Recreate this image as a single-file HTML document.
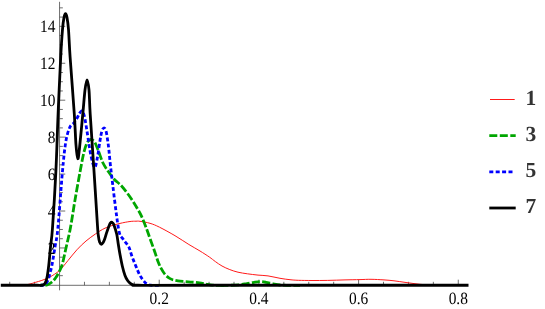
<!DOCTYPE html>
<html><head><meta charset="utf-8"><title>plot</title>
<style>html,body{margin:0;padding:0;background:#fff;}body{width:545px;height:309px;overflow:hidden;font-family:"Liberation Serif",serif;}svg{display:block;will-change:transform;}text{text-rendering:geometricPrecision;}</style>
</head><body>
<svg width="545" height="309" viewBox="0 0 545 309">
<rect width="100%" height="100%" fill="#fff"/>
<g stroke="#4a4a4a" stroke-width="0.8" fill="none">
<line x1="1" y1="285.30" x2="468" y2="285.30"/>
<line x1="59.55" y1="1.8" x2="59.55" y2="290.3"/>
<line x1="59.55" y1="275.66" x2="62.85" y2="275.66"/>
<line x1="59.55" y1="266.43" x2="62.85" y2="266.43"/>
<line x1="59.55" y1="257.19" x2="62.85" y2="257.19"/>
<line x1="59.55" y1="247.96" x2="65.25" y2="247.96"/>
<line x1="59.55" y1="238.72" x2="62.85" y2="238.72"/>
<line x1="59.55" y1="229.49" x2="62.85" y2="229.49"/>
<line x1="59.55" y1="220.25" x2="62.85" y2="220.25"/>
<line x1="59.55" y1="211.02" x2="65.25" y2="211.02"/>
<line x1="59.55" y1="201.78" x2="62.85" y2="201.78"/>
<line x1="59.55" y1="192.55" x2="62.85" y2="192.55"/>
<line x1="59.55" y1="183.31" x2="62.85" y2="183.31"/>
<line x1="59.55" y1="174.08" x2="65.25" y2="174.08"/>
<line x1="59.55" y1="164.84" x2="62.85" y2="164.84"/>
<line x1="59.55" y1="155.61" x2="62.85" y2="155.61"/>
<line x1="59.55" y1="146.38" x2="62.85" y2="146.38"/>
<line x1="59.55" y1="137.14" x2="65.25" y2="137.14"/>
<line x1="59.55" y1="127.90" x2="62.85" y2="127.90"/>
<line x1="59.55" y1="118.67" x2="62.85" y2="118.67"/>
<line x1="59.55" y1="109.44" x2="62.85" y2="109.44"/>
<line x1="59.55" y1="100.20" x2="65.25" y2="100.20"/>
<line x1="59.55" y1="90.96" x2="62.85" y2="90.96"/>
<line x1="59.55" y1="81.73" x2="62.85" y2="81.73"/>
<line x1="59.55" y1="72.50" x2="62.85" y2="72.50"/>
<line x1="59.55" y1="63.26" x2="65.25" y2="63.26"/>
<line x1="59.55" y1="54.02" x2="62.85" y2="54.02"/>
<line x1="59.55" y1="44.79" x2="62.85" y2="44.79"/>
<line x1="59.55" y1="35.56" x2="62.85" y2="35.56"/>
<line x1="59.55" y1="26.32" x2="65.25" y2="26.32"/>
<line x1="59.55" y1="17.08" x2="62.85" y2="17.08"/>
<line x1="59.55" y1="7.85" x2="62.85" y2="7.85"/>
<line x1="9.71" y1="285.30" x2="9.71" y2="281.80"/>
<line x1="34.63" y1="285.30" x2="34.63" y2="281.80"/>
<line x1="84.47" y1="285.30" x2="84.47" y2="281.80"/>
<line x1="109.39" y1="285.30" x2="109.39" y2="281.80"/>
<line x1="134.31" y1="285.30" x2="134.31" y2="281.80"/>
<line x1="159.23" y1="285.30" x2="159.23" y2="279.70"/>
<line x1="184.15" y1="285.30" x2="184.15" y2="281.80"/>
<line x1="209.07" y1="285.30" x2="209.07" y2="281.80"/>
<line x1="233.99" y1="285.30" x2="233.99" y2="281.80"/>
<line x1="258.91" y1="285.30" x2="258.91" y2="279.70"/>
<line x1="283.83" y1="285.30" x2="283.83" y2="281.80"/>
<line x1="308.75" y1="285.30" x2="308.75" y2="281.80"/>
<line x1="333.67" y1="285.30" x2="333.67" y2="281.80"/>
<line x1="358.59" y1="285.30" x2="358.59" y2="279.70"/>
<line x1="383.51" y1="285.30" x2="383.51" y2="281.80"/>
<line x1="408.43" y1="285.30" x2="408.43" y2="281.80"/>
<line x1="433.35" y1="285.30" x2="433.35" y2="281.80"/>
<line x1="458.27" y1="285.30" x2="458.27" y2="279.70"/>
</g>
<defs><clipPath id="cg"><rect x="40" y="0" width="250" height="309"/></clipPath><clipPath id="cb"><rect x="40" y="0" width="120" height="309"/></clipPath></defs>
<path d="M1.00,285.20 C3.33,285.20 11.17,285.23 15.00,285.20 C18.83,285.17 21.50,285.20 24.00,285.00 C26.50,284.80 28.33,284.37 30.00,284.00 C31.67,283.63 32.83,283.15 34.00,282.80 C35.17,282.45 36.00,282.20 37.00,281.90 C38.00,281.60 38.83,281.38 40.00,281.00 C41.17,280.62 42.33,280.27 44.00,279.60 C45.67,278.93 47.42,278.52 50.00,277.00 C52.58,275.48 56.50,273.25 59.50,270.50 C62.50,267.75 65.10,263.95 68.00,260.50 C70.90,257.05 73.90,253.05 76.90,249.80 C79.90,246.55 82.92,243.63 86.00,241.00 C89.08,238.37 92.62,235.95 95.40,234.00 C98.18,232.05 100.27,230.60 102.70,229.30 C105.13,228.00 107.12,227.18 110.00,226.20 C112.88,225.22 116.67,224.18 120.00,223.40 C123.33,222.62 127.33,221.87 130.00,221.50 C132.67,221.13 134.33,221.23 136.00,221.20 C137.67,221.17 137.67,220.95 140.00,221.30 C142.33,221.65 146.75,222.32 150.00,223.30 C153.25,224.28 155.33,225.13 159.50,227.20 C163.67,229.27 170.10,232.82 175.00,235.70 C179.90,238.58 184.73,241.95 188.90,244.50 C193.07,247.05 196.60,248.92 200.00,251.00 C203.40,253.08 206.73,255.23 209.30,257.00 C211.87,258.77 213.28,260.10 215.40,261.60 C217.52,263.10 219.60,264.67 222.00,266.00 C224.40,267.33 227.13,268.57 229.80,269.60 C232.47,270.63 235.07,271.50 238.00,272.20 C240.93,272.90 244.07,273.32 247.40,273.80 C250.73,274.28 254.57,274.75 258.00,275.10 C261.43,275.45 264.33,275.37 268.00,275.90 C271.67,276.43 276.33,277.67 280.00,278.30 C283.67,278.93 286.95,279.37 290.00,279.70 C293.05,280.03 294.63,280.17 298.30,280.30 C301.97,280.43 307.10,280.48 312.00,280.50 C316.90,280.52 322.20,280.50 327.70,280.40 C333.20,280.30 339.62,280.03 345.00,279.90 C350.38,279.77 355.67,279.70 360.00,279.60 C364.33,279.50 367.00,279.25 371.00,279.30 C375.00,279.35 380.17,279.65 384.00,279.90 C387.83,280.15 390.33,280.37 394.00,280.80 C397.67,281.23 401.67,281.92 406.00,282.50 C410.33,283.08 415.67,283.87 420.00,284.30 C424.33,284.73 427.83,284.93 432.00,285.10 C436.17,285.27 439.17,285.27 445.00,285.30 C450.83,285.33 463.33,285.30 467.00,285.30" fill="none" stroke="#ff1a1a" stroke-width="1"/>
<path d="M0.00,285.22 C5.00,285.22 22.67,285.22 30.00,285.22 C37.33,285.22 41.00,285.34 44.00,285.22 C47.00,285.10 46.67,285.04 48.00,284.50 C49.33,283.96 50.72,283.12 52.00,282.00 C53.28,280.88 54.53,279.47 55.70,277.80 C56.87,276.13 57.93,274.15 59.00,272.00 C60.07,269.85 60.93,268.90 62.10,264.90 C63.27,260.90 64.62,254.15 66.00,248.00 C67.38,241.85 68.90,236.00 70.40,228.00 C71.90,220.00 73.37,209.50 75.00,200.00 C76.63,190.50 78.70,179.00 80.20,171.00 C81.70,163.00 82.78,156.83 84.00,152.00 C85.22,147.17 86.33,144.08 87.50,142.00 C88.67,139.92 89.78,139.45 91.00,139.50 C92.22,139.55 93.50,140.22 94.80,142.30 C96.10,144.38 97.43,148.55 98.80,152.00 C100.17,155.45 101.42,159.75 103.00,163.00 C104.58,166.25 106.48,168.83 108.30,171.50 C110.12,174.17 111.88,176.78 113.90,179.00 C115.92,181.22 118.25,182.55 120.40,184.80 C122.55,187.05 124.75,189.82 126.80,192.50 C128.85,195.18 130.87,198.10 132.70,200.90 C134.53,203.70 136.32,206.72 137.80,209.30 C139.28,211.88 140.20,213.32 141.60,216.40 C143.00,219.48 144.67,223.75 146.20,227.80 C147.73,231.85 149.33,236.58 150.80,240.70 C152.27,244.82 153.80,249.03 155.00,252.50 C156.20,255.97 157.00,258.88 158.00,261.50 C159.00,264.12 159.88,266.12 161.00,268.20 C162.12,270.28 163.45,272.42 164.70,274.00 C165.95,275.58 167.27,276.78 168.50,277.70 C169.73,278.62 170.52,278.98 172.10,279.50 C173.68,280.02 175.90,280.47 178.00,280.80 C180.10,281.13 182.37,281.28 184.70,281.50 C187.03,281.72 189.53,281.87 192.00,282.10 C194.47,282.33 197.17,282.57 199.50,282.90 C201.83,283.23 203.92,283.73 206.00,284.10 C208.08,284.47 210.00,284.90 212.00,285.10 C214.00,285.30 215.67,285.27 218.00,285.30 C220.33,285.33 224.67,285.30 226.00,285.30" fill="none" stroke="#00a600" stroke-width="2.8" stroke-dasharray="7.9 2.3" stroke-dashoffset="5.85" clip-path="url(#cg)"/>
<path id="g2" d="M218.00,285.30 C219.00,285.30 222.00,285.30 224.00,285.30 C226.00,285.30 227.50,285.37 230.00,285.30 C232.50,285.23 236.17,285.18 239.00,284.90 C241.83,284.62 244.50,284.03 247.00,283.60 C249.50,283.17 251.83,282.63 254.00,282.30 C256.17,281.97 258.00,281.60 260.00,281.60 C262.00,281.60 263.83,281.93 266.00,282.30 C268.17,282.67 270.67,283.35 273.00,283.80 C275.33,284.25 277.50,284.75 280.00,285.00 C282.50,285.25 284.67,285.25 288.00,285.30 C291.33,285.35 298.00,285.30 300.00,285.30" fill="none" stroke="#00a600" stroke-width="2.8" stroke-dasharray="8.1 2.4" stroke-dashoffset="8"/>
<path d="M0.00,285.22 C5.00,285.22 23.00,285.22 30.00,285.22 C37.00,285.22 39.42,285.42 42.00,285.22 C44.58,285.02 44.50,284.87 45.50,284.00 C46.50,283.13 47.25,281.83 48.00,280.00 C48.75,278.17 49.33,275.52 50.00,273.00 C50.67,270.48 51.17,269.23 52.00,264.90 C52.83,260.57 54.02,253.15 55.00,247.00 C55.98,240.85 56.65,240.67 57.90,228.00 C59.15,215.33 61.18,185.38 62.50,171.00 C63.82,156.62 64.60,148.95 65.80,141.70 C67.00,134.45 68.42,130.57 69.70,127.50 C70.98,124.43 72.28,124.83 73.50,123.30 C74.72,121.77 76.00,119.95 77.00,118.30 C78.00,116.65 78.77,114.62 79.50,113.40 C80.23,112.18 80.82,111.18 81.40,111.00 C81.98,110.82 82.50,111.42 83.00,112.30 C83.50,113.18 83.97,114.60 84.40,116.30 C84.83,118.00 85.13,119.80 85.60,122.50 C86.07,125.20 86.33,127.08 87.20,132.50 C88.07,137.92 89.57,149.20 90.80,155.00 C92.03,160.80 93.48,166.97 94.60,167.30 C95.72,167.63 96.62,161.35 97.50,157.00 C98.38,152.65 99.18,145.45 99.90,141.20 C100.62,136.95 101.15,133.70 101.80,131.50 C102.45,129.30 103.12,128.17 103.80,128.00 C104.48,127.83 105.27,128.50 105.90,130.50 C106.53,132.50 107.10,136.75 107.60,140.00 C108.10,143.25 108.30,144.67 108.90,150.00 C109.50,155.33 109.62,159.00 111.20,172.00 C112.78,185.00 116.43,216.83 118.40,228.00 C120.37,239.17 121.30,235.92 123.00,239.00 C124.70,242.08 127.17,243.78 128.60,246.50 C130.03,249.22 130.47,252.22 131.60,255.30 C132.73,258.38 134.10,261.83 135.40,265.00 C136.70,268.17 138.08,271.73 139.40,274.30 C140.72,276.87 142.07,278.80 143.30,280.40 C144.53,282.00 145.60,283.12 146.80,283.90 C148.00,284.68 149.13,284.87 150.50,285.10 C151.87,285.33 151.75,285.27 155.00,285.30 C158.25,285.33 167.50,285.30 170.00,285.30" fill="none" stroke="#0000ff" stroke-width="2.8" stroke-dasharray="3.9 2.38" stroke-dashoffset="3.78" clip-path="url(#cb)"/>
<path d="M0.80,285.27 C4.00,285.27 13.97,285.27 20.00,285.27 C26.03,285.27 33.50,285.27 37.00,285.27 C40.50,285.27 39.90,285.37 41.00,285.27 C42.10,285.17 42.87,285.14 43.60,284.70 C44.33,284.25 44.83,283.78 45.40,282.60 C45.97,281.42 46.43,280.55 47.00,277.60 C47.57,274.65 48.22,270.00 48.80,264.90 C49.38,259.80 49.88,253.15 50.50,247.00 C51.12,240.85 51.60,240.67 52.50,228.00 C53.40,215.33 54.97,190.00 55.90,171.00 C56.83,152.00 57.30,133.00 58.10,114.00 C58.90,95.00 59.97,71.08 60.70,57.00 C61.43,42.92 61.95,36.08 62.50,29.50 C63.05,22.92 63.50,20.13 64.00,17.50 C64.50,14.87 65.00,13.70 65.50,13.70 C66.00,13.70 66.50,14.87 67.00,17.50 C67.50,20.13 67.98,22.92 68.50,29.50 C69.02,36.08 69.13,42.92 70.10,57.00 C71.07,71.08 73.32,99.33 74.30,114.00 C75.28,128.67 75.42,137.55 76.00,145.00 C76.58,152.45 77.22,158.20 77.80,158.70 C78.38,159.20 78.67,155.45 79.50,148.00 C80.33,140.55 81.88,123.67 82.80,114.00 C83.72,104.33 84.30,95.70 85.00,90.00 C85.70,84.30 86.33,79.80 87.00,79.80 C87.67,79.80 88.47,84.30 89.00,90.00 C89.53,95.70 89.37,100.50 90.20,114.00 C91.03,127.50 92.78,152.33 94.00,171.00 C95.22,189.67 96.77,215.17 97.50,226.00 C98.23,236.83 98.05,233.33 98.40,236.00 C98.75,238.67 99.08,240.62 99.60,242.00 C100.12,243.38 100.88,244.27 101.50,244.30 C102.12,244.33 102.78,243.03 103.30,242.20 C103.82,241.37 103.98,241.07 104.60,239.30 C105.22,237.53 106.20,233.98 107.00,231.60 C107.80,229.22 108.80,226.47 109.40,225.00 C110.00,223.53 110.25,223.27 110.60,222.80 C110.95,222.33 111.18,222.20 111.50,222.20 C111.82,222.20 112.08,222.30 112.50,222.80 C112.92,223.30 113.30,223.33 114.00,225.20 C114.70,227.07 115.98,230.82 116.70,234.00 C117.42,237.18 117.75,240.88 118.30,244.30 C118.85,247.72 119.33,250.88 120.00,254.50 C120.67,258.12 121.47,262.50 122.30,266.00 C123.13,269.50 124.12,273.07 125.00,275.50 C125.88,277.93 126.77,279.33 127.60,280.60 C128.43,281.87 129.20,282.43 130.00,283.10 C130.80,283.77 131.57,284.25 132.40,284.60 C133.23,284.95 134.07,285.06 135.00,285.17 C135.93,285.28 127.17,285.25 138.00,285.27 C148.83,285.29 144.92,285.27 200.00,285.27 C255.08,285.27 423.75,285.27 468.50,285.27" fill="none" stroke="#000" stroke-width="2.8" stroke-linejoin="round" stroke-linecap="butt"/>
<g style="font-family:&quot;Liberation Serif&quot;,serif" font-size="15.4px" fill="#000">
<text transform="translate(55.5,253.56) scale(1,1.125)" text-anchor="end">2</text>
<text transform="translate(55.5,216.62) scale(1,1.125)" text-anchor="end">4</text>
<text transform="translate(55.5,179.68) scale(1,1.125)" text-anchor="end">6</text>
<text transform="translate(55.5,142.74) scale(1,1.125)" text-anchor="end">8</text>
<text transform="translate(55.5,105.80) scale(1,1.125)" text-anchor="end">10</text>
<text transform="translate(55.5,68.86) scale(1,1.125)" text-anchor="end">12</text>
<text transform="translate(55.5,31.92) scale(1,1.125)" text-anchor="end">14</text>
<text transform="translate(159.23,303.9) scale(1,1.125)" text-anchor="middle">0.2</text>
<text transform="translate(258.91,303.9) scale(1,1.125)" text-anchor="middle">0.4</text>
<text transform="translate(358.59,303.9) scale(1,1.125)" text-anchor="middle">0.6</text>
<text transform="translate(458.27,303.9) scale(1,1.125)" text-anchor="middle">0.8</text>
</g>
<line x1="490" y1="99.50" x2="514.7" y2="99.50" stroke="#ff1a1a" stroke-width="1"/>
<line x1="489.3" y1="135.55" x2="515.7" y2="135.55" stroke="#00a600" stroke-width="2.8" stroke-dasharray="8 2.5"/>
<line x1="489.3" y1="171.90" x2="514.5" y2="171.90" stroke="#0000ff" stroke-width="2.8" stroke-dasharray="4 2.4"/>
<line x1="489.3" y1="208.00" x2="515.7" y2="208.00" stroke="#000" stroke-width="2.8"/>
<g style="font-family:&quot;Liberation Serif&quot;,serif" font-size="21.5px" font-weight="bold" fill="#333">
<text x="525.6" y="105.00">1</text>
<text x="525.6" y="140.90">3</text>
<text x="525.6" y="177.00">5</text>
<text x="525.6" y="213.00">7</text>
</g>
</svg>
</body></html>
